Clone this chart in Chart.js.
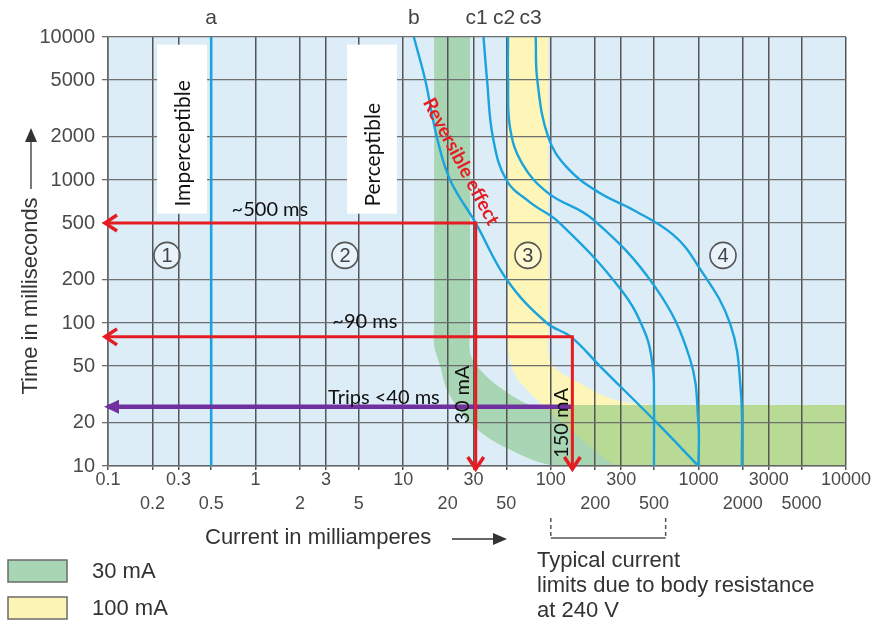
<!DOCTYPE html>
<html>
<head>
<meta charset="utf-8">
<script src="https://cdn.jsdelivr.net/npm/chart.js@4.4.1/dist/chart.umd.min.js"></script>
<style>
  html, body { margin: 0; padding: 0; background: #fff; }
  #wrap { width: 871px; height: 624px; position: relative; }
</style>
</head>
<body>
<div id="wrap"><canvas id="chart"></canvas></div>
<script>
// Axis ticks
const yTicks = [10, 20, 50, 100, 200, 500, 1000, 2000, 5000, 10000];
const xTopRow = [0.1, 0.3, 1, 3, 10, 30, 100, 300, 1000, 3000, 10000];
const xBottomRow = [0.2, 0.5, 2, 5, 20, 50, 200, 500, 2000, 5000];
const xTicks = [...xTopRow, ...xBottomRow].sort((a, b) => a - b);

// Zone boundary curves: [current mA, time ms]
const curveA = [[0.5, 10000], [0.5, 10]];
const curveB = [[11.8, 10000], [14.1, 5000], [16.9, 2000], [20.8, 1000], [31, 500], [50.5, 200],
                [94, 100], [137, 80], [215, 50], [524, 20], [1000, 10]];
const curveC1 = [[35, 10000], [37, 5000], [40.5, 2000], [50, 1000], [72, 700], [115, 500],
                 [300, 170], [440, 83], [492, 48], [500, 30], [500, 10]];
const curveC2 = [[51.3, 10000], [51.3, 5000], [53, 2300], [64, 1300], [96, 810], [193, 530],
                 [510, 178], [877, 56], [1000, 20], [1000, 10]];
const curveC3 = [[79, 10000], [81, 5000], [96, 2000], [129, 1220], [215, 810], [360, 620],
                 [673, 415], [980, 257], [1640, 99], [1940, 33], [1970, 10]];

// RCD trip bands (outline of each L-shaped band)
const band30mA = [[16.2, 20000], [16.2, 100], [16.2, 70], [17.8, 50], [20.1, 33], [28.4, 20],
                  [50.5, 13.3], [115, 10], [20000, 10], [30000, 10], [30000, 26.7], [20000, 26.7],
                  [95, 26.7], [72, 26.7], [43, 36.8], [31.6, 50], [28.4, 62], [28.4, 90],
                  [28.4, 20000]];
const band100mA = [[51.3, 20000], [51.3, 90], [51.3, 64], [57, 44], [69, 34], [90, 26],
                   [140, 17.5], [226, 11.5], [300, 10], [20000, 10], [30000, 10], [30000, 26.7],
                   [20000, 26.7], [600, 26.7], [470, 26.7], [264, 29.3], [165, 36.8], [103, 50],
                   [95.7, 64], [95.7, 90], [95.7, 20000]];

// Highlighted readings
const read30mA = [[0.1, 500], [31, 500], [31, 10]];
const read150mA = [[0.1, 80], [140, 80], [140, 10]];
const tripLine = [[0.1, 26], [140, 26]];

// Label anchors
const zoneMarks = [['1', 0.251, 297], ['2', 4.03, 297], ['3', 70, 297], ['4', 1468, 297]];
const bracketRange = [100, 600];

const pts = arr => arr.map(([x, y]) => ({ x, y }));

const BLUE = '#1ba3dd';
const RED = '#e41d23';
const PURPLE = '#7030a0';
const SANS = '"Liberation Sans", Arial, sans-serif';
const HUMAN = 'Lato, "Open Sans", sans-serif';

function curve(data, width) {
  return { data: pts(data), borderColor: BLUE, borderWidth: width, tension: 0.4, fill: false, pointRadius: 0 };
}
function arrowLine(data, color, width, head) {
  return { data: pts(data), borderColor: color, borderWidth: width, tension: 0, fill: false,
           pointRadius: 0, borderJoinStyle: 'miter', head };
}
function band(data, color) {
  return { data: pts(data), borderColor: 'transparent', borderWidth: 0, backgroundColor: color,
           fill: 'shape', tension: 0.35, pointRadius: 0 };
}

function text(ctx, str, x, y, font, color, angle, align) {
  ctx.save();
  ctx.translate(x, y);
  ctx.rotate(angle || 0);
  ctx.font = font;
  ctx.fillStyle = color;
  ctx.textAlign = align || 'center';
  ctx.textBaseline = 'middle';
  ctx.fillText(str, 0, 0);
  ctx.restore();
}

const decor = {
  id: 'decor',
  beforeDraw(chart) {
    // plot background goes under the band fills
    const { ctx, chartArea: a } = chart;
    ctx.save();
    ctx.globalCompositeOperation = 'destination-over';
    ctx.fillStyle = '#dcedf8';
    ctx.fillRect(a.left, a.top, a.right - a.left, a.bottom - a.top);
    ctx.restore();
  },
  beforeDatasetsDraw(chart) {
    const { ctx } = chart;
    const X = v => chart.scales.x.getPixelForValue(v);
    const Y = v => chart.scales.y.getPixelForValue(v);

    // white label boxes
    [['Imperceptible', 0.215, 0.469], ['Perceptible', 4.16, 9.08]].forEach(([str, x0, x1]) => {
      const l = X(x0), r = X(x1), t = Y(8840), b = Y(582);
      ctx.fillStyle = '#ffffff';
      ctx.fillRect(l, t, r - l, b - t);
      text(ctx, str, (l + r) / 2 + 1, b - 7, '21px ' + HUMAN, '#111', -Math.PI / 2, 'left');
    });

    // circled zone numbers
    zoneMarks.forEach(([n, x, y]) => {
      const cx = X(x), cy = Y(y);
      ctx.beginPath();
      ctx.arc(cx, cy, 13, 0, Math.PI * 2);
      ctx.fillStyle = 'rgba(255,255,255,0.35)';
      ctx.fill();
      ctx.lineWidth = 1.6;
      ctx.strokeStyle = '#555';
      ctx.stroke();
      text(ctx, n, cx, cy + 1, '20px ' + SANS, '#444');
    });
  },
  afterDatasetsDraw(chart) {
    const { ctx } = chart;
    const X = v => chart.scales.x.getPixelForValue(v);
    const Y = v => chart.scales.y.getPixelForValue(v);

    // arrow heads
    chart.data.datasets.forEach((ds, i) => {
      if (!ds.head) return;
      const pts = chart.getDatasetMeta(i).data;
      const first = pts[0], last = pts[pts.length - 1];
      ctx.save();
      ctx.strokeStyle = ds.borderColor;
      ctx.fillStyle = ds.borderColor;
      ctx.lineWidth = 3.5;
      ctx.lineJoin = 'miter';
      if (ds.head === 'chevron') {
        let x = first.x - 3, y = first.y;
        ctx.beginPath();
        ctx.moveTo(x + 12, y - 8); ctx.lineTo(x, y); ctx.lineTo(x + 12, y + 8);
        ctx.stroke();
        x = last.x; y = last.y + 3;
        ctx.beginPath();
        ctx.moveTo(x - 8, y - 12); ctx.lineTo(x, y); ctx.lineTo(x + 8, y - 12);
        ctx.stroke();
      } else {
        const x = first.x - 4, y = first.y;
        ctx.beginPath();
        ctx.moveTo(x, y); ctx.lineTo(x + 15, y - 7); ctx.lineTo(x + 15, y + 7);
        ctx.closePath();
        ctx.fill();
      }
      ctx.restore();
    });

    // reading labels
    text(ctx, '~500 ms', X(1.25), Y(500) - 14, '20px ' + HUMAN, '#111');
    text(ctx, '~90 ms', X(5.5), Y(80) - 15, '20px ' + HUMAN, '#111');
    text(ctx, 'Trips <40 ms', X(7.4), Y(26) - 9, '20px ' + HUMAN, '#111');
    text(ctx, '30 mA', X(31) - 13, Y(31.6), '20px ' + HUMAN, '#111', -Math.PI / 2);
    text(ctx, '150 mA', X(140) - 11, Y(20), '20px ' + HUMAN, '#111', -Math.PI / 2);
    text(ctx, 'Reversible effect', X(24.6), Y(1346), 'bold 19px ' + HUMAN, RED, 62 * Math.PI / 180);
  },
  afterDraw(chart) {
    const { ctx } = chart;
    const X = v => chart.scales.x.getPixelForValue(v);

    // curve names along the top
    const top = 18, f = '21px ' + SANS, c = '#444';
    text(ctx, 'a', X(curveA[0][0]), top, f, c);
    text(ctx, 'b', X(curveB[0][0]), top, f, c);
    text(ctx, 'c1', X(curveC1[0][0]) - 7, top, f, c);
    text(ctx, 'c2', X(curveC2[0][0]) - 4, top, f, c);
    text(ctx, 'c3', X(curveC3[0][0]) - 5, top, f, c);

    // axis titles with arrows
    ctx.save();
    ctx.strokeStyle = '#333';
    ctx.fillStyle = '#333';
    ctx.lineWidth = 1.3;
    text(ctx, 'Time in milliseconds', 31, 296, '22px ' + SANS, '#333', -Math.PI / 2);
    ctx.beginPath(); ctx.moveTo(31, 189); ctx.lineTo(31, 141); ctx.stroke();
    ctx.beginPath(); ctx.moveTo(31, 128); ctx.lineTo(25, 142); ctx.lineTo(37, 142); ctx.closePath(); ctx.fill();

    text(ctx, 'Current in milliamperes', 205, 538, '22px ' + SANS, '#333', 0, 'left');
    ctx.beginPath(); ctx.moveTo(452, 539); ctx.lineTo(494, 539); ctx.stroke();
    ctx.beginPath(); ctx.moveTo(507, 539); ctx.lineTo(493, 533); ctx.lineTo(493, 545); ctx.closePath(); ctx.fill();

    // body resistance bracket
    const bl = X(bracketRange[0]), br = X(bracketRange[1]);
    ctx.strokeStyle = '#555';
    ctx.lineWidth = 1.5;
    ctx.setLineDash([4, 3]);
    ctx.beginPath();
    ctx.moveTo(bl, 518); ctx.lineTo(bl, 538);
    ctx.moveTo(br, 518); ctx.lineTo(br, 538);
    ctx.stroke();
    ctx.setLineDash([]);
    ctx.beginPath(); ctx.moveTo(bl, 538); ctx.lineTo(br, 538); ctx.stroke();
    ctx.restore();

    text(ctx, 'Typical current', 537, 561, '22px ' + SANS, '#333', 0, 'left');
    text(ctx, 'limits due to body resistance', 537, 586, '22px ' + SANS, '#333', 0, 'left');
    text(ctx, 'at 240 V', 537, 611, '22px ' + SANS, '#333', 0, 'left');

    // legend
    ctx.save();
    ctx.lineWidth = 1.5;
    ctx.strokeStyle = '#6b6b6b';
    ctx.fillStyle = '#a8d5b4';
    ctx.fillRect(8, 560, 59, 22); ctx.strokeRect(8, 560, 59, 22);
    ctx.fillStyle = '#fdf5b5';
    ctx.fillRect(8, 597, 59, 22); ctx.strokeRect(8, 597, 59, 22);
    ctx.restore();
    text(ctx, '30 mA', 92, 572, '22px ' + SANS, '#333', 0, 'left');
    text(ctx, '100 mA', 92, 609, '22px ' + SANS, '#333', 0, 'left');
  }
};

const chart = new Chart(document.getElementById('chart'), {
  type: 'line',
  data: {
    datasets: [
      arrowLine(read30mA, RED, 3, 'chevron'),
      arrowLine(read150mA, RED, 3, 'chevron'),
      arrowLine(tripLine, PURPLE, 4.5, 'triangle'),
      curve(curveA, 2.6),
      curve(curveB, 2.4),
      curve(curveC1, 2.4),
      curve(curveC2, 2.4),
      curve(curveC3, 2.4),
      band(band30mA, 'rgba(116,189,112,0.5)'),
      band(band100mA, '#fdf6b8')
    ]
  },
  options: {
    responsive: true,
    maintainAspectRatio: false,
    animation: false,
    events: [],
    layout: { padding: { top: 37, right: 25, left: 0, bottom: 0 } },
    plugins: {
      legend: { display: false },
      tooltip: { enabled: false },
      filler: { drawTime: 'beforeDraw' }
    },
    scales: {
      x: {
        type: 'logarithmic',
        min: 0.1,
        max: 10000,
        afterBuildTicks: s => { s.ticks = xTicks.map(v => ({ value: v })); },
        afterFit: s => { s.height = 158; },
        ticks: {
          autoSkip: false,
          maxRotation: 0,
          padding: -2,
          color: '#4a4a4a',
          font: { family: 'Liberation Sans', size: 18, lineHeight: 1.33 },
          callback: v => xBottomRow.includes(v) ? ['', String(v)] : String(v)
        },
        grid: { color: '#555', lineWidth: 1.5, tickLength: 4 },
        border: { color: '#666', width: 1.5 }
      },
      y: {
        type: 'logarithmic',
        min: 10,
        max: 10000,
        afterBuildTicks: s => { s.ticks = yTicks.map(v => ({ value: v })); },
        afterFit: s => { s.width = 108; },
        ticks: {
          autoSkip: false,
          padding: 7,
          color: '#4a4a4a',
          font: { family: 'Liberation Sans', size: 20 },
          callback: v => String(v)
        },
        grid: { color: '#6e6e6e', lineWidth: 1.3, tickLength: 6 },
        border: { color: '#666', width: 1.5 }
      }
    }
  },
  plugins: [decor]
});
</script>
</body>
</html>
